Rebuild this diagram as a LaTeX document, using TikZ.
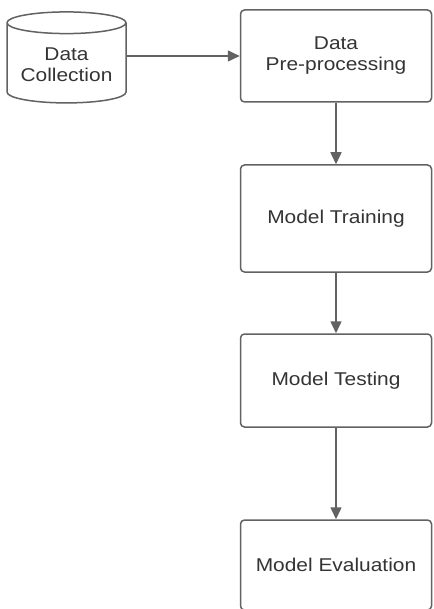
\documentclass[tikz,border=0pt]{standalone}
\usepackage{fontspec}
\setmainfont{Liberation Sans}[FakeStretch=1.13]
\usetikzlibrary{arrows.meta,positioning,shapes.geometric}
\definecolor{line}{RGB}{98,98,98}
\definecolor{ink}{RGB}{52,52,52}

\begin{document}
\begin{tikzpicture}[x=1pt, y=-1pt,
  every node/.style={font=\fontsize{18.5}{21}\selectfont, text=ink},
  box/.style={rectangle, rounded corners=4pt, draw=line, line width=1.5pt,
    minimum width=191pt, align=center},
  cyl/.style={cylinder, shape border rotate=90, aspect=0.22, draw=line,
    line width=1.5pt, minimum width=119pt, minimum height=91pt, align=center},
  e/.style={-{Triangle[length=12pt,width=11pt]}, line width=1.5pt, draw=line}]
  \useasboundingbox[fill=white] (0,0) rectangle (433,609);
  \clip (0,0) rectangle (433,609);
  \node[cyl] (dc) at (66.5,65) {Data\\Collection};
  \node[box, minimum height=92pt] (pre) at (336,56) {Data\\Pre-processing};
  \node[box, minimum height=107pt] (train) at (336,218.5) {Model Training};
  \node[box, minimum height=93pt] (test) at (336,380.5) {Model Testing};
  \node[box, minimum height=90pt] (eval) at (336,565) {Model Evaluation};
  \draw[e] (dc.east |- pre.west) -- (pre.west);
  \draw[e] (pre) -- (train);
  \draw[e] (train) -- (test);
  \draw[e] (test) -- (eval);
\end{tikzpicture}
\end{document}
